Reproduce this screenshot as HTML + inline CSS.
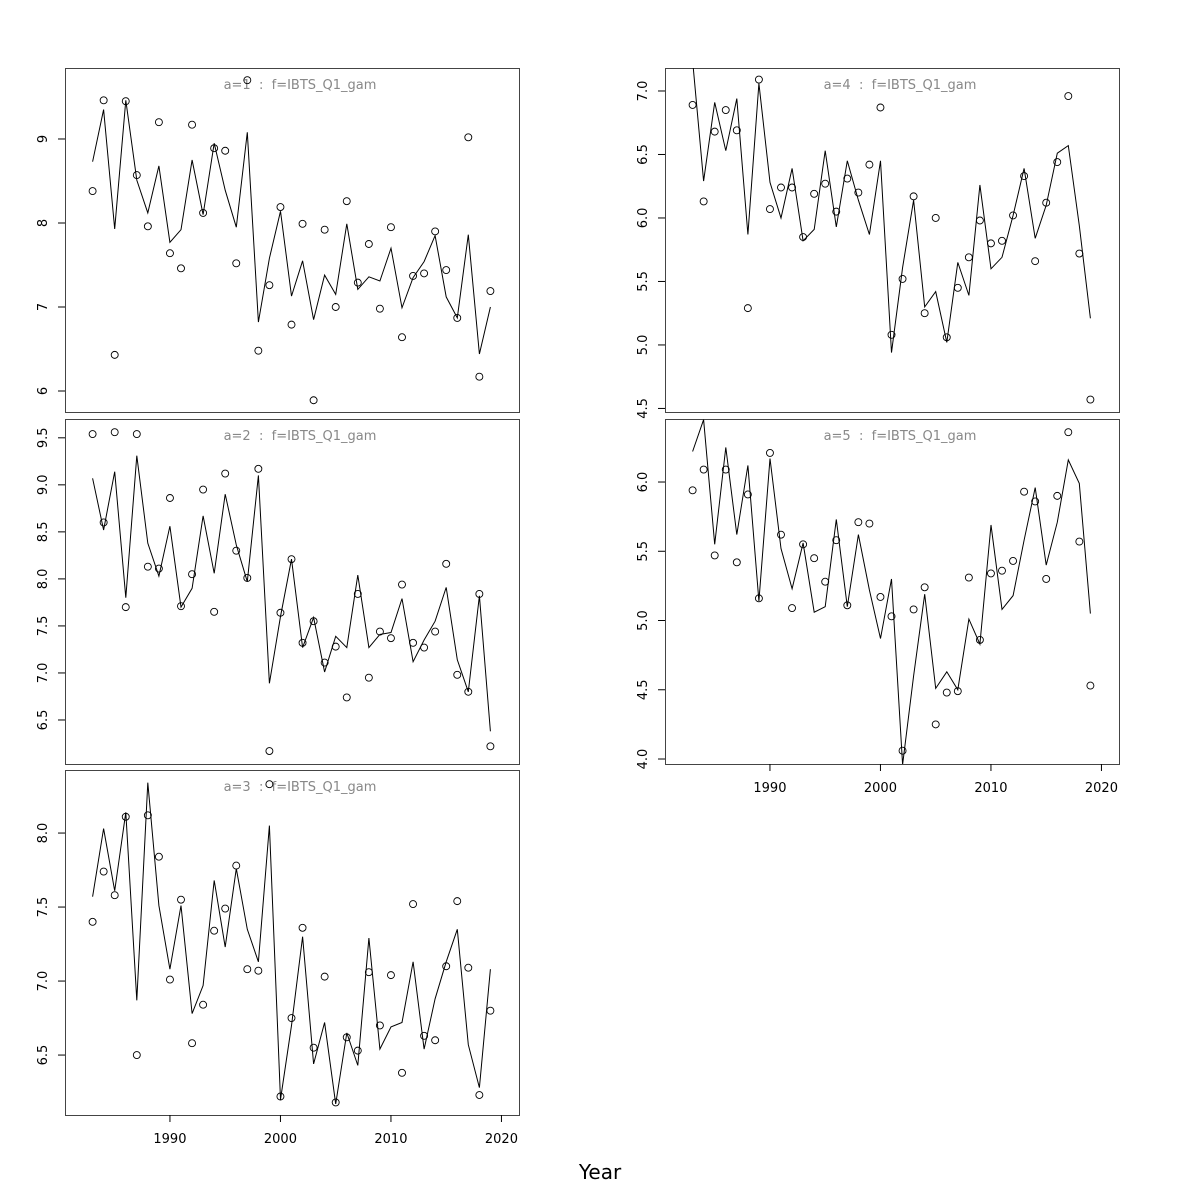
<!DOCTYPE html>
<html><head><meta charset="utf-8"><style>
html,body{margin:0;padding:0;background:#fff;}
svg{display:block;font-family:"DejaVu Sans","Liberation Sans",sans-serif;}
</style></head><body>
<svg id="chart" width="1200" height="1200" viewBox="0 0 1200 1200">
<text x="600" y="1179" font-size="20" text-anchor="middle">Year</text>
</svg>
<script>
const years = Array.from({length:37},(_,i)=>1983+i);
const obs1 = [8.38,9.46,6.43,9.45,8.57,7.96,9.20,7.64,7.46,9.17,8.12,8.89,8.86,7.52,9.70,6.48,7.26,8.19,6.79,7.99,5.89,7.92,7.00,8.26,7.29,7.75,6.98,7.95,6.64,7.37,7.40,7.90,7.44,6.87,9.02,6.17,7.19];
const fit1 = [8.73,9.35,7.93,9.46,8.51,8.12,8.68,7.77,7.92,8.75,8.10,8.95,8.39,7.95,9.08,6.82,7.58,8.14,7.13,7.55,6.85,7.38,7.15,7.99,7.21,7.36,7.31,7.70,6.99,7.35,7.54,7.85,7.12,6.87,7.86,6.44,7.00];
const obs2 = [9.54,8.60,9.56,7.70,9.54,8.13,8.11,8.86,7.71,8.05,8.95,7.65,9.12,8.30,8.01,9.17,6.17,7.64,8.21,7.32,7.55,7.11,7.28,6.74,7.84,6.95,7.44,7.37,7.94,7.32,7.27,7.44,8.16,6.98,6.80,7.84,6.22];
const fit2 = [9.07,8.52,9.14,7.80,9.31,8.38,8.03,8.56,7.70,7.90,8.67,8.06,8.90,8.36,7.97,9.10,6.89,7.60,8.21,7.27,7.59,7.01,7.39,7.27,8.04,7.27,7.41,7.43,7.79,7.12,7.35,7.55,7.91,7.14,6.80,7.82,6.38];
const obs3 = [7.40,7.74,7.58,8.11,6.50,8.12,7.84,7.01,7.55,6.58,6.84,7.34,7.49,7.78,7.08,7.07,8.33,6.22,6.75,7.36,6.55,7.03,6.18,6.62,6.53,7.06,6.70,7.04,6.38,7.52,6.63,6.60,7.10,7.54,7.09,6.23,6.80];
const fit3 = [7.57,8.03,7.61,8.14,6.87,8.34,7.51,7.08,7.51,6.78,6.97,7.68,7.23,7.76,7.35,7.13,8.05,6.20,6.70,7.30,6.44,6.72,6.17,6.65,6.43,7.29,6.54,6.69,6.72,7.13,6.54,6.88,7.13,7.35,6.57,6.28,7.08];
const obs4 = [6.89,6.13,6.68,6.85,6.69,5.29,7.09,6.07,6.24,6.24,5.85,6.19,6.27,6.05,6.31,6.20,6.42,6.87,5.08,5.52,6.17,5.25,6.00,5.06,5.45,5.69,5.98,5.80,5.82,6.02,6.33,5.66,6.12,6.44,6.96,5.72,4.57];
const fit4 = [7.24,6.29,6.91,6.53,6.94,5.87,7.06,6.28,6.00,6.39,5.82,5.91,6.53,5.93,6.45,6.14,5.87,6.45,4.94,5.61,6.14,5.30,5.42,5.02,5.65,5.39,6.26,5.60,5.69,6.02,6.39,5.84,6.10,6.51,6.57,5.94,5.21];
const obs5 = [5.94,6.09,5.47,6.09,5.42,5.91,5.16,6.21,5.62,5.09,5.55,5.45,5.28,5.58,5.11,5.71,5.70,5.17,5.03,4.06,5.08,5.24,4.25,4.48,4.49,5.31,4.86,5.34,5.36,5.43,5.93,5.86,5.30,5.90,6.36,5.57,4.53];
const fit5 = [6.22,6.45,5.55,6.25,5.62,6.12,5.14,6.17,5.52,5.23,5.56,5.06,5.10,5.73,5.10,5.62,5.22,4.87,5.30,3.96,4.60,5.19,4.51,4.63,4.50,5.01,4.83,5.69,5.08,5.18,5.58,5.96,5.40,5.71,6.16,5.99,5.05];
const ticks1 = [6,7,8,9];
const ticks2 = [6.5,7.0,7.5,8.0,8.5,9.0,9.5];
const ticks3 = [6.5,7.0,7.5,8.0];
const ticks4 = [4.5,5.0,5.5,6.0,6.5,7.0];
const ticks5 = [4.0,4.5,5.0,5.5,6.0];
const xTicks = [1990,2000,2010,2020];

const NS="http://www.w3.org/2000/svg";
const svg=document.getElementById('chart');
function mk(tag,attrs,parent){const e=document.createElementNS(NS,tag);for(const k in attrs)e.setAttribute(k,attrs[k]);(parent||svg).appendChild(e);return e;}

const panels=[
 {id:1,a:1,x0:65,x1:519,y0:68,y1:412,ymin:5.75,ymax:9.845,obs:obs1,fit:fit1,ticks:ticks1,fmt:v=>String(v),xaxis:false},
 {id:2,a:2,x0:65,x1:519,y0:419,y1:764,ymin:6.032,ymax:9.70,obs:obs2,fit:fit2,ticks:ticks2,fmt:v=>v.toFixed(1),xaxis:false},
 {id:3,a:3,x0:65,x1:519,y0:770,y1:1115,ymin:6.095,ymax:8.426,obs:obs3,fit:fit3,ticks:ticks3,fmt:v=>v.toFixed(1),xaxis:true},
 {id:4,a:4,x0:665,x1:1119,y0:68,y1:412,ymin:4.472,ymax:7.181,obs:obs4,fit:fit4,ticks:ticks4,fmt:v=>v.toFixed(1),xaxis:false},
 {id:5,a:5,x0:665,x1:1119,y0:419,y1:764,ymin:3.964,ymax:6.455,obs:obs5,fit:fit5,ticks:ticks5,fmt:v=>v.toFixed(1),xaxis:true}
];
panels.forEach(p=>{
  const xs=yr=>p.x0+27.6+(yr-1983)*11.05;
  const ys=v=>p.y1-(v-p.ymin)/(p.ymax-p.ymin)*(p.y1-p.y0);
  const g=mk('g',{});
  
  
  const cid='clip'+p.id;
  const cp=mk('clipPath',{id:cid},g);
  mk('rect',{x:p.x0,y:p.y0,width:p.x1-p.x0,height:p.y1-p.y0},cp);
  const fr=mk('rect',{x:p.x0+0.5,y:p.y0+0.5,width:p.x1-p.x0,height:p.y1-p.y0,fill:'none',stroke:'#444','stroke-width':1},g);
  
  
  const t=mk('text',{x:(p.x0+p.x1)/2+8,y:p.y0+21,'font-size':13,fill:'#888','text-anchor':'middle'},g);
  t.textContent='a='+p.a+'\u00a0\u00a0:\u00a0\u00a0f=IBTS_Q1_gam';
  
  
  p.ticks.forEach(v=>{
    const y=ys(v);
    mk('line',{x1:p.x0-7,x2:p.x0,y1:y,y2:y,stroke:'#000'},g);
    const tl=mk('text',{x:0,y:0,'font-size':13,'text-anchor':'middle',transform:`translate(${p.x0-18},${y}) rotate(-90)`},g);
    tl.textContent=p.fmt(v);
    
    
  });
  if(p.xaxis){
    xTicks.forEach(yr=>{
      const x=xs(yr);
      mk('line',{x1:x,x2:x,y1:p.y1,y2:p.y1+7,stroke:'#000'},g);
      const xl=mk('text',{x:x,y:p.y1+28,'font-size':13,'text-anchor':'middle'},g);
      xl.textContent=yr;
      
      
    });
  }
  const pts=p.fit.map((v,i)=>xs(years[i]).toFixed(1)+','+ys(v).toFixed(1)).join(' ');
  const ln=mk('polyline',{points:pts,fill:'none',stroke:'#000','stroke-width':1,'clip-path':`url(#${cid})`},g);
  
  
  p.obs.forEach((v,i)=>{
    const c=mk('circle',{cx:xs(years[i]),cy:ys(v),r:3.5,fill:'none',stroke:'#000','stroke-width':0.9},g);
    
    
  });
});
</script>
</body></html>
